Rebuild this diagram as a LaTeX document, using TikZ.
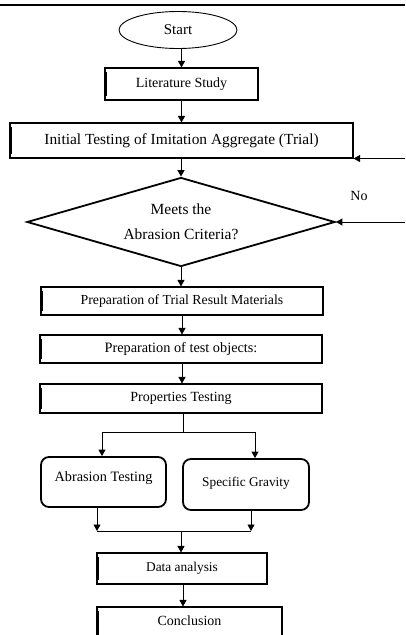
\documentclass[tikz,border=0pt]{standalone}
\usepackage{fontspec}
\setmainfont{Liberation Serif}
\usetikzlibrary{arrows.meta,shapes.geometric}
\begin{document}
\begin{tikzpicture}[x=1pt,y=-1pt,
  every node/.style={inner sep=0pt},
  box/.style={draw,line width=1.1pt,rectangle},
  rbox/.style={draw,line width=1.8pt,rectangle,rounded corners=8pt},
  arr/.style={line width=0.9pt,-{Triangle[length=6.5pt,width=7pt]}},
  ln/.style={line width=0.9pt},
  bar/.style={line width=2pt}]
\useasboundingbox (0,0) rectangle (405,635);
\clip (0,0) rectangle (405,635);
\draw[line width=2.5pt] (0,5) -- (405,5);
% nodes
\node[draw,ellipse,line width=0.9pt,minimum width=118pt,minimum height=37pt,font=\fontsize{15}{17}\selectfont] (start) at (178,30) {Start};
\node[box,minimum width=153pt,minimum height=32pt,font=\fontsize{14}{16}\selectfont] (lit) at (181.5,84) {Literature Study};
\node[box,minimum width=343pt,minimum height=35pt,font=\fontsize{15.4}{17}\selectfont] (init) at (181.5,140.5) {Initial Testing of Imitation Aggregate (Trial)};
\node[draw,diamond,line width=1.8pt,minimum width=308pt,minimum height=89pt,aspect=3.46,align=center,font=\fontsize{15.5}{18}\selectfont] (dia) at (181,222) {Meets the\\[7pt]Abrasion Criteria?};
\node[font=\fontsize{14}{16}\selectfont] (no) at (359,196) {No};
\node[box,minimum width=282pt,minimum height=28pt,font=\fontsize{13.8}{16}\selectfont] (trial) at (182,301) {Preparation of Trial Result Materials};
\node[box,minimum width=282pt,minimum height=28pt,font=\fontsize{14.3}{16}\selectfont] (obj) at (181,349) {Preparation of test objects:};
\node[box,minimum width=282pt,minimum height=29pt,font=\fontsize{14}{16}\selectfont] (prop) at (181,398.5) {Properties Testing};
\node[rbox,minimum width=125pt,minimum height=50pt,text height=10pt,text depth=11pt,font=\fontsize{14.3}{16}\selectfont] (abr) at (103.5,482) {Abrasion Testing};
\node[rbox,minimum width=126pt,minimum height=51pt,text height=10pt,text depth=7pt,font=\fontsize{13.3}{16}\selectfont] (spec) at (246,484.5) {Specific Gravity};
\node[box,minimum width=170pt,minimum height=31pt,font=\fontsize{13.4}{16}\selectfont] (data) at (182,568.5) {Data analysis};
\node[box,minimum width=185pt,minimum height=40pt,text height=10pt,text depth=14pt,font=\fontsize{14}{16}\selectfont] (concl) at (189.5,627) {Conclusion};
% left bars
\foreach \n in {lit,init,trial,obj,prop,data,concl}
  \draw[bar] ([xshift=1.5pt,yshift=-4.5pt]\n.north west) -- ([xshift=1.5pt,yshift=4.5pt]\n.south west);
% coordinates
\coordinate (sl) at (102,432);
\coordinate (sr) at (255,432);
\coordinate (split) at (183,432);
\coordinate (jl) at (97,531);
\coordinate (jr) at (251,531);
\coordinate (join) at (181,531);
\coordinate (fb1) at (405,158.5);
\coordinate (fb2) at (405,222);
% connectors
\draw[arr] (start.south -| lit.north) -- (lit.north);
\draw[arr] (lit.south) -- (init.north -| lit.south);
\draw[arr] (init.south -| dia.north) -- (dia.north);
\draw[arr] (dia.south) -- (trial.north -| dia.south);
\draw[arr] (trial.south) -- (obj.north -| trial.south);
\draw[arr] (obj.south -| trial.south) -- (prop.north -| trial.south);
\draw[ln] (prop.south -| split) -- (split);
\draw[ln] (sl) -- (sr);
\draw[arr] (sl) -- (sl |- abr.north);
\draw[arr] (sr) -- (sr |- spec.north);
\draw[arr] (abr.south -| jl) -- (jl);
\draw[arr] (spec.south -| jr) -- (jr);
\draw[ln] (jl) -- (jr);
\draw[arr] (join) -- (data.north -| join);
\draw[arr] (data.south -| split) -- (concl.north -| split);
\draw[arr] (fb1) -- (init.south east);
\draw[arr] (fb2) -- (dia.east);
\end{tikzpicture}
\end{document}
